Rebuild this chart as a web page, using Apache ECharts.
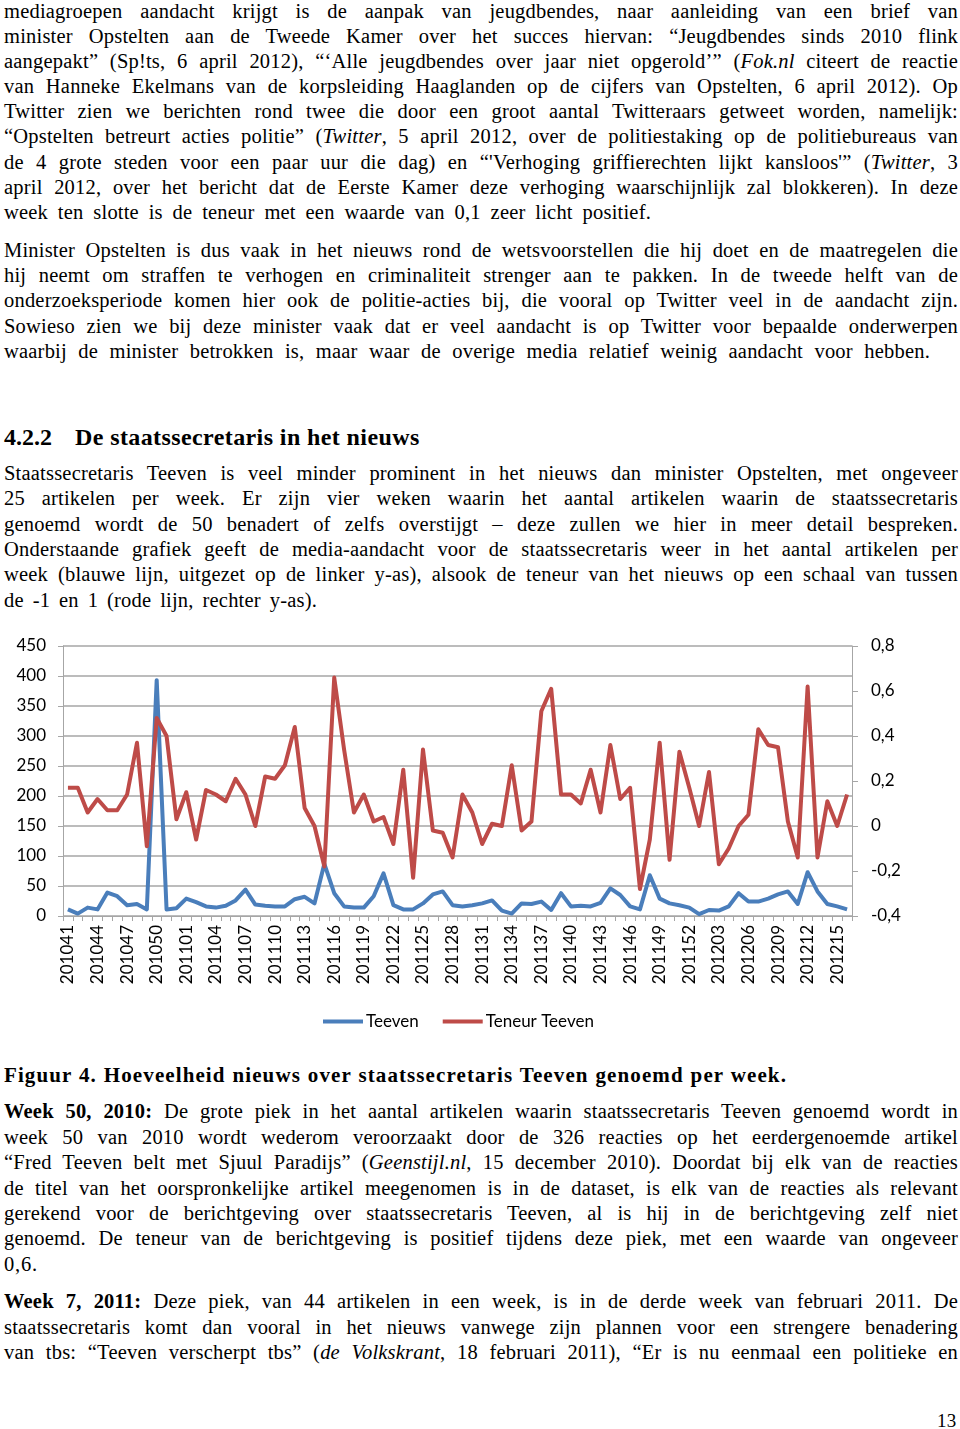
<!DOCTYPE html>
<html>
<head>
<meta charset="utf-8">
<script src="https://cdn.jsdelivr.net/npm/echarts@6/dist/echarts.min.js"></script>
<style>
  html, body { margin:0; padding:0; background:#fff; }
  body { width:960px; height:1429px; position:relative; overflow:hidden; color:#000; }
  .l { position:absolute; left:4px; width:954px; white-space:nowrap; text-align:justify; text-align-last:justify;
       font-family:'Liberation Serif', serif; font-size:20.5px; letter-spacing:0.2px; line-height:24px; }
  .h { position:absolute; font-family:'Liberation Serif', serif; font-weight:bold; font-size:24px; line-height:28px; white-space:nowrap; }
  #chart { position:absolute; left:0; top:635px; width:960px; height:400px; }
</style>
</head>
<body>
<div class="l" style="top:-1px">mediagroepen aandacht krijgt is de aanpak van jeugdbendes, naar aanleiding van een brief van</div>
<div class="l" style="top:24px">minister Opstelten aan de Tweede Kamer over het succes hiervan: “Jeugdbendes sinds 2010 flink</div>
<div class="l" style="top:49px">aangepakt” (Sp!ts, 6 april 2012), “‘Alle jeugdbendes over jaar niet opgerold’” (<i>Fok.nl</i> citeert de reactie</div>
<div class="l" style="top:74px">van Hanneke Ekelmans van de korpsleiding Haaglanden op de cijfers van Opstelten, 6 april 2012). Op</div>
<div class="l" style="top:99px">Twitter zien we berichten rond twee die door een groot aantal Twitteraars getweet worden, namelijk:</div>
<div class="l" style="top:124px">“Opstelten betreurt acties politie” (<i>Twitter</i>, 5 april 2012, over de politiestaking op de politiebureaus van</div>
<div class="l" style="top:150px">de 4 grote steden voor een paar uur die dag) en “'Verhoging griffierechten lijkt kansloos'” (<i>Twitter</i>, 3</div>
<div class="l" style="top:175px">april 2012, over het bericht dat de Eerste Kamer deze verhoging waarschijnlijk zal blokkeren). In deze</div>
<div class="l" style="top:200px; width:647px">week ten slotte is de teneur met een waarde van 0,1 zeer licht positief.</div>

<div class="l" style="top:238px">Minister Opstelten is dus vaak in het nieuws rond de wetsvoorstellen die hij doet en de maatregelen die</div>
<div class="l" style="top:263px">hij neemt om straffen te verhogen en criminaliteit strenger aan te pakken. In de tweede helft van de</div>
<div class="l" style="top:288px">onderzoeksperiode komen hier ook de politie-acties bij, die vooral op Twitter veel in de aandacht zijn.</div>
<div class="l" style="top:314px">Sowieso zien we bij deze minister vaak dat er veel aandacht is op Twitter voor bepaalde onderwerpen</div>
<div class="l" style="top:339px; width:926px">waarbij de minister betrokken is, maar waar de overige media relatief weinig aandacht voor hebben.</div>

<div class="h" style="top:423px; left:4px">4.2.2</div>
<div class="h" style="top:423px; left:75px; letter-spacing:0.4px">De staatssecretaris in het nieuws</div>

<div class="l" style="top:461px">Staatssecretaris Teeven is veel minder prominent in het nieuws dan minister Opstelten, met ongeveer</div>
<div class="l" style="top:486px">25 artikelen per week. Er zijn vier weken waarin het aantal artikelen waarin de staatssecretaris</div>
<div class="l" style="top:512px">genoemd wordt de 50 benadert of zelfs overstijgt – deze zullen we hier in meer detail bespreken.</div>
<div class="l" style="top:537px">Onderstaande grafiek geeft de media-aandacht voor de staatssecretaris weer in het aantal artikelen per</div>
<div class="l" style="top:562px">week (blauwe lijn, uitgezet op de linker y-as), alsook de teneur van het nieuws op een schaal van tussen</div>
<div class="l" style="top:588px; width:313px">de -1 en 1 (rode lijn, rechter y-as).</div>

<div id="chart"></div>

<div class="l" style="top:1063px; width:783px; font-weight:bold; font-size:21px; letter-spacing:1.1px">Figuur 4. Hoeveelheid nieuws over staatssecretaris Teeven genoemd per week.</div>

<div class="l" style="top:1099px"><b>Week 50, 2010:</b> De grote piek in het aantal artikelen waarin staatssecretaris Teeven genoemd wordt in</div>
<div class="l" style="top:1125px">week 50 van 2010 wordt wederom veroorzaakt door de 326 reacties op het eerdergenoemde artikel</div>
<div class="l" style="top:1150px">“Fred Teeven belt met Sjuul Paradijs” (<i>Geenstijl.nl</i>, 15 december 2010). Doordat bij elk van de reacties</div>
<div class="l" style="top:1176px">de titel van het oorspronkelijke artikel meegenomen is in de dataset, is elk van de reacties als relevant</div>
<div class="l" style="top:1201px">gerekend voor de berichtgeving over staatssecretaris Teeven, al is hij in de berichtgeving zelf niet</div>
<div class="l" style="top:1226px">genoemd. De teneur van de berichtgeving is positief tijdens deze piek, met een waarde van ongeveer</div>
<div class="l" style="top:1252px; width:auto; text-align:left; text-align-last:left; letter-spacing:0.8px">0,6.</div>

<div class="l" style="top:1289px"><b>Week 7, 2011:</b> Deze piek, van 44 artikelen in een week, is in de derde week van februari 2011. De</div>
<div class="l" style="top:1315px">staatssecretaris komt dan vooral in het nieuws vanwege zijn plannen voor een strengere benadering</div>
<div class="l" style="top:1340px">van tbs: “Teeven verscherpt tbs” (<i>de Volkskrant</i>, 18 februari 2011), “Er is nu eenmaal een politieke en</div>

<div class="l" style="top:1409px; left:937px; width:auto; text-align:left; text-align-last:left; font-size:19px">13</div>

<script>
// ---- data ----
const weeks = [
  '201041','201042','201043','201044','201045','201046','201047','201048','201049','201050','201051','201052',
  '201101','201102','201103','201104','201105','201106','201107','201108','201109','201110','201111','201112',
  '201113','201114','201115','201116','201117','201118','201119','201120','201121','201122','201123','201124',
  '201125','201126','201127','201128','201129','201130','201131','201132','201133','201134','201135','201136',
  '201137','201138','201139','201140','201141','201142','201143','201144','201145','201146','201147','201148',
  '201149','201150','201151','201152',
  '201201','201202','201203','201204','201205','201206','201207','201208','201209','201210','201211','201212',
  '201213','201214','201215','201216'
];
const teeven = [
  11, 4, 14, 11, 39, 33, 18, 20, 11, 393, 11, 13,
  29, 23, 16, 14, 17, 26, 44, 19, 17, 16, 16, 28,
  32, 21, 87, 38, 16, 14, 14, 33, 71, 18, 11, 11,
  21, 36, 41, 18, 16, 18, 21, 26, 9, 4, 21, 20,
  24, 10, 38, 16, 17, 16, 22, 46, 35, 16, 11, 68,
  29, 21, 18, 14,
  3, 10, 9, 16, 38, 24, 24, 29, 36, 41, 20, 73,
  41, 20, 16, 11
];
const teneur = [
  0.17, 0.17, 0.06, 0.12, 0.07, 0.07, 0.14, 0.37, -0.09, 0.48, 0.40, 0.03,
  0.15, -0.06, 0.16, 0.14, 0.11, 0.21, 0.14, 0.00, 0.22, 0.21, 0.27, 0.44,
  0.08, 0.00, -0.18, 0.66, 0.34, 0.06, 0.14, 0.02, 0.04, -0.08, 0.25, -0.23,
  0.34, -0.02, -0.03, -0.14, 0.14, 0.06, -0.08, 0.01, 0.00, 0.27, -0.02, 0.02,
  0.51, 0.61, 0.14, 0.14, 0.10, 0.25, 0.06, 0.36, 0.12, 0.17, -0.28, -0.06,
  0.37, -0.15, 0.33, 0.17,
  0.00, 0.24, -0.17, -0.10, 0.00, 0.05, 0.43, 0.36, 0.35, 0.02, -0.14, 0.62,
  -0.14, 0.11, 0.00, 0.14
];
const seriesNames = ['Teeven', 'Teneur Teeven'];

// ---- chart ----
const chart = echarts.init(document.getElementById('chart'), null, { renderer: 'canvas' });
const axisFont = { fontFamily: 'Lato', fontSize: 17, color: '#000' };
const gridLineColor = '#a6a6a6';
chart.setOption({
  animation: false,
  grid: { left: 63, right: 108, top: 11, bottom: 119 },
  legend: {
    data: seriesNames,
    left: 318, top: 373,
    icon: 'rect', itemWidth: 40, itemHeight: 4, itemGap: 24,
    textStyle: { fontFamily: 'Lato', fontSize: 17, color: '#000', padding: [0, 0, 0, -2] }
  },
  xAxis: {
    type: 'category',
    data: weeks,
    boundaryGap: true,
    axisLine: { lineStyle: { color: gridLineColor, width: 1 } },
    axisTick: { show: true, interval: 0, length: 5, lineStyle: { color: gridLineColor } },
    axisLabel: { interval: 2, rotate: 90, margin: 9, ...axisFont }
  },
  yAxis: [
    {
      type: 'value', min: 0, max: 450, interval: 50, position: 'left',
      axisLine: { show: true, lineStyle: { color: gridLineColor } },
      axisTick: { show: true, length: 5, lineStyle: { color: gridLineColor } },
      splitLine: { show: true, lineStyle: { color: gridLineColor, width: 1.5 } },
      axisLabel: { margin: 17, ...axisFont }
    },
    {
      type: 'value', min: -0.4, max: 0.8, interval: 0.2, position: 'right',
      axisLine: { show: true, lineStyle: { color: gridLineColor } },
      axisTick: { show: true, length: 6, lineStyle: { color: gridLineColor } },
      splitLine: { show: false },
      axisLabel: {
        margin: 19, ...axisFont,
        formatter: v => String(Math.round(v * 10) / 10).replace('.', ',')
      }
    }
  ],
  series: [
    {
      name: seriesNames[0], type: 'line', yAxisIndex: 0, data: teeven,
      symbol: 'none', color: '#4a7ebb',
      lineStyle: { width: 4, color: '#4a7ebb', join: 'round' }
    },
    {
      name: seriesNames[1], type: 'line', yAxisIndex: 1, data: teneur,
      symbol: 'none', color: '#be4b48',
      lineStyle: { width: 4, color: '#be4b48', join: 'round' }
    }
  ]
});
</script>
</body>
</html>
